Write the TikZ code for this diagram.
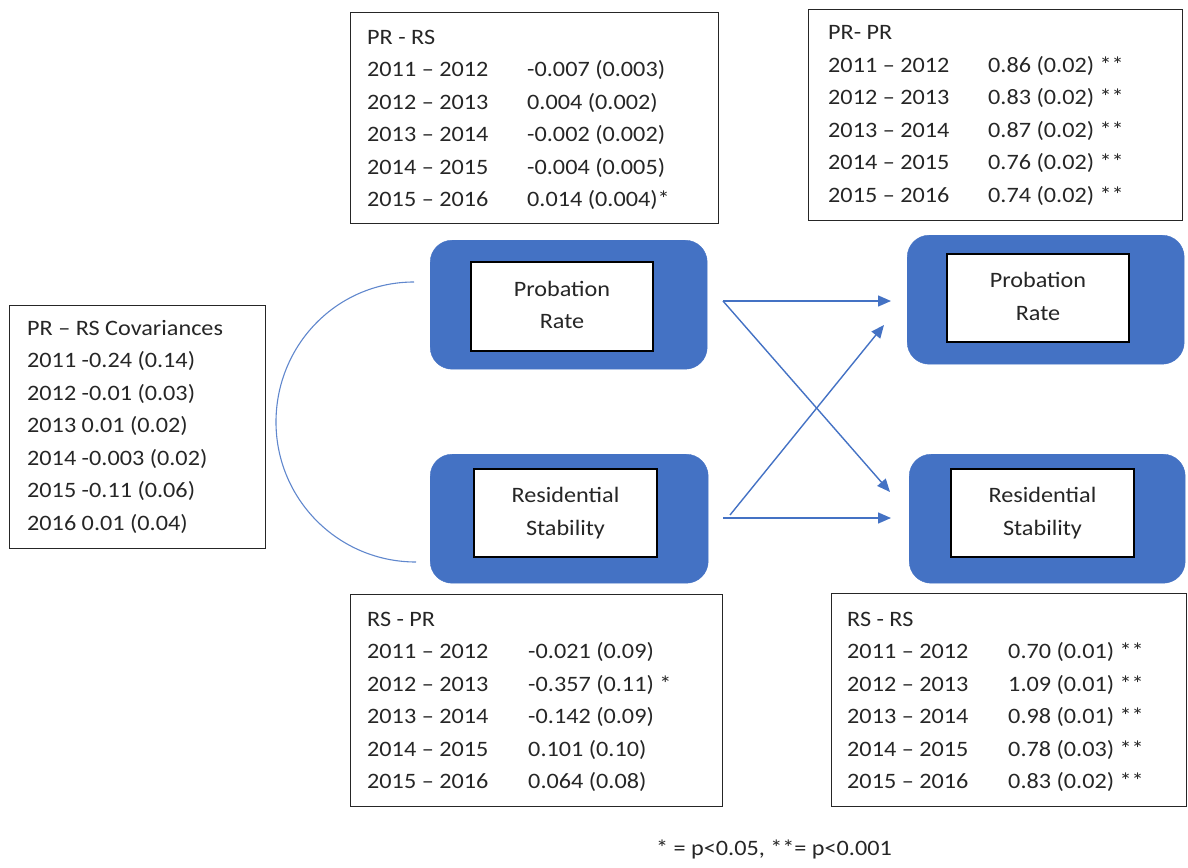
\documentclass[tikz,border=0pt]{standalone}
\usepackage{fontspec}
\setmainfont{Carlito}[FakeStretch=1.1]
\usetikzlibrary{arrows.meta}
\definecolor{accent}{HTML}{4472C4}
\definecolor{ink}{HTML}{262626}
\begin{document}
\begin{tikzpicture}[x=1pt,y=-1pt,
  every node/.style={font=\fontsize{22}{32.5}\selectfont, text=ink},
  panel/.style={draw=black!85, line width=1.2pt, anchor=north west, inner sep=0pt},
  rows/.style={anchor=base west, inner sep=0pt},
  varbox/.style={fill=accent, draw=accent, rounded corners=22pt, anchor=north west, inner sep=0pt, minimum height=129pt},
  labelbox/.style={fill=white, draw=black, line width=1.3pt, align=center, inner sep=0pt, minimum height=88pt},
  link/.style={draw=accent, line width=1.4pt, -{Triangle[length=13pt,width=11pt]}},
  cov/.style={draw=accent!85, line width=1.1pt}]
\useasboundingbox (0,0) rectangle (1188,867);

% coefficient panels
\node[panel, minimum width=368pt, minimum height=211pt] (prrsBox) at (350,12) {};
\node[rows] (prrs) at (367,44.5) {\begin{tabular}[t]{@{}p{160pt}@{}l@{}}
PR - RS & \\
2011 – 2012 & -0.007 (0.003)\\
2012 – 2013 & 0.004 (0.002)\\
2013 – 2014 & -0.002 (0.002)\\
2014 – 2015 & -0.004 (0.005)\\
2015 – 2016 & 0.014 (0.004)*
\end{tabular}};

\node[panel, minimum width=374pt, minimum height=211pt] (prprBox) at (808,9) {};
\node[rows] (prpr) at (828,40) {\begin{tabular}[t]{@{}p{160pt}@{}l@{}}
PR- PR & \\
2011 – 2012 & 0.86 (0.02) **\\
2012 – 2013 & 0.83 (0.02) **\\
2013 – 2014 & 0.87 (0.02) **\\
2014 – 2015 & 0.76 (0.02) **\\
2015 – 2016 & 0.74 (0.02) **
\end{tabular}};

\node[panel, minimum width=256pt, minimum height=243pt] (covBox) at (9,305) {};
\node[rows] (covs) at (27,335) {\begin{tabular}[t]{@{}l@{}}
PR – RS Covariances\\
2011 -0.24 (0.14)\\
2012 -0.01 (0.03)\\
2013 0.01 (0.02)\\
2014 -0.003 (0.02)\\
2015 -0.11 (0.06)\\
2016 0.01 (0.04)
\end{tabular}};

\node[panel, minimum width=372pt, minimum height=212pt] (rsprBox) at (350,594) {};
\node[rows] (rspr) at (367,626) {\begin{tabular}[t]{@{}p{161pt}@{}l@{}}
RS - PR & \\
2011 – 2012 & -0.021 (0.09)\\
2012 – 2013 & -0.357 (0.11) *\\
2013 – 2014 & -0.142 (0.09)\\
2014 – 2015 & 0.101 (0.10)\\
2015 – 2016 & 0.064 (0.08)
\end{tabular}};

\node[panel, minimum width=355pt, minimum height=213pt] (rsrsBox) at (831,593) {};
\node[rows] (rsrs) at (847,626) {\begin{tabular}[t]{@{}p{161pt}@{}l@{}}
RS - RS & \\
2011 – 2012 & 0.70 (0.01) **\\
2012 – 2013 & 1.09 (0.01) **\\
2013 – 2014 & 0.98 (0.01) **\\
2014 – 2015 & 0.78 (0.03) **\\
2015 – 2016 & 0.83 (0.02) **
\end{tabular}};

% variables at the two time points
\node[varbox, minimum width=277pt] (prL) at (430,240) {};
\node[varbox, minimum width=278pt] (rsL) at (430,454) {};
\node[varbox, minimum width=277pt] (prR) at (907,235) {};
\node[varbox, minimum width=276pt] (rsR) at (909,454) {};

\node[labelbox, minimum width=182pt, minimum height=89pt] (prLlab) at (562,306.5) {Probation\\Rate\vphantom{y}};
\node[labelbox, minimum width=183pt] (rsLlab) at (565.5,513) {Residential\\Stability};
\node[labelbox, minimum width=182pt] (prRlab) at (1038,298) {Probation\\Rate\vphantom{y}};
\node[labelbox, minimum width=183pt] (rsRlab) at (1042.5,513) {Residential\\Stability};

% path ends
\coordinate (prOut) at (723,301);
\coordinate (rsOut) at (723,518);
\coordinate (rsOutB) at (730,515);
\coordinate (prIn) at (891,301);
\coordinate (prInB) at (884,325);
\coordinate (rsIn) at (891,518);
\coordinate (rsInB) at (890,492);
\coordinate (covTop) at (414,282);
\coordinate (covBot) at (416,562);

% cross-lagged and autoregressive paths
\draw[link] (prOut) -- (prIn);
\draw[link] (prOut) -- (rsInB);
\draw[link] (rsOutB) -- (prInB);
\draw[link] (rsOut) -- (rsIn);

% covariance
\draw[cov] (covTop) .. controls (337,282) and (276,345) .. (276,422)
  .. controls (276,499) and (338,562) .. (covBot);

\node[anchor=base] (note) at (774,855) {* = p<0.05, **= p<0.001};
\end{tikzpicture}
\end{document}
